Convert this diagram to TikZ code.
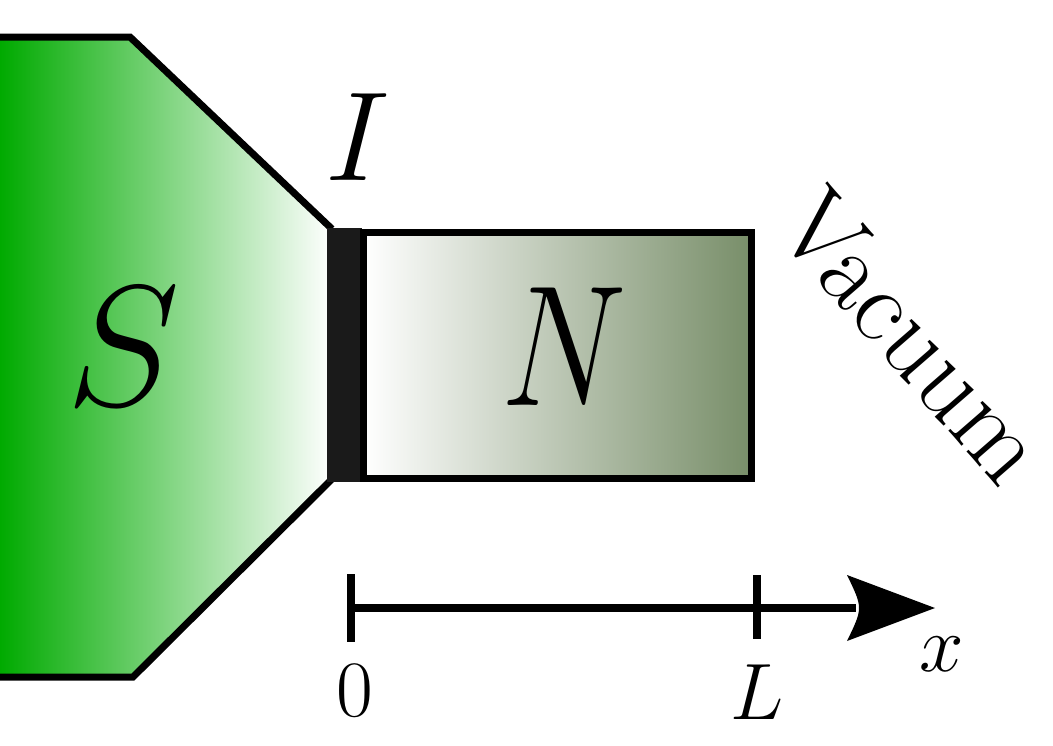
\RequirePackage{fix-cm}
\documentclass[tikz,border=0pt]{standalone}
\usetikzlibrary{calc}
\definecolor{sgreen}{RGB}{0,170,0}
\definecolor{nolive}{RGB}{120,142,105}
\definecolor{barrierc}{RGB}{26,26,26}
\tikzset{
  edge/.style={line width=7pt, line join=miter},
  axisline/.style={line width=8.5pt},
  bigfont/.style={font=\fontsize{172}{172}\selectfont, inner sep=0pt},
  midfont/.style={font=\fontsize{127}{127}\selectfont, inner sep=0pt},
  smallfont/.style={font=\fontsize{80}{80}\selectfont, inner sep=0pt},
}
\begin{document}
\begin{tikzpicture}[x=1pt,y=-1pt]
\useasboundingbox (0,0) rectangle (1053,745);
% superconductor S
\coordinate (st0) at (0,37);
\coordinate (st1) at (130,37);
\coordinate (st2) at (332,229);
\coordinate (sb2) at (332,479);
\coordinate (sb1) at (133,677);
\coordinate (sb0) at (0,677);
\shade[left color=sgreen, right color=white] (st0) -- (st1) -- (st2) -- (sb2) -- (sb1) -- (sb0) -- cycle;
\draw[edge] (st0) -- (st1) -- (st2);
\draw[edge] (sb2) -- (sb1) -- (sb0);
% barrier I
\fill[barrierc] (327,228) rectangle (362,482);
% normal metal N
\coordinate (n0) at (363.5,232);
\coordinate (n1) at (751,478);
\shade[left color=white, right color=nolive] (n0) rectangle (n1);
\draw[edge] (n0) rectangle (n1);
% labels
\node[bigfont] (S) at (123,347) {$S$};
\node[bigfont, xscale=0.82] (N) at (564,347) {$N$};
\node[midfont] (I) at (358,137) {$I$};
\node[rotate=-49, anchor=base west, font=\fontsize{106}{106}\selectfont, inner sep=0pt] (vac) at (772,228) {Vacuum};
% axis
\coordinate (a0) at (351,608);
\coordinate (aL) at (757,608);
\coordinate (aend) at (856,608);
\coordinate (tip) at (935,608);
\draw[axisline] (a0) -- (aend);
\draw[line width=8pt] ($(a0)+(0,-34)$) -- ($(a0)+(0,34)$);
\draw[line width=8pt] ($(aL)+(0,-33)$) -- ($(aL)+(0,31)$);
\fill (tip) -- (847,575) .. controls (863,608) .. (847,641) -- cycle;
\node[smallfont] (zero) at (355,691) {$0$};
\node[smallfont] (L) at (757,692) {$L$};
\node[smallfont] (x) at (942,654) {$x$};
\end{tikzpicture}
\end{document}
